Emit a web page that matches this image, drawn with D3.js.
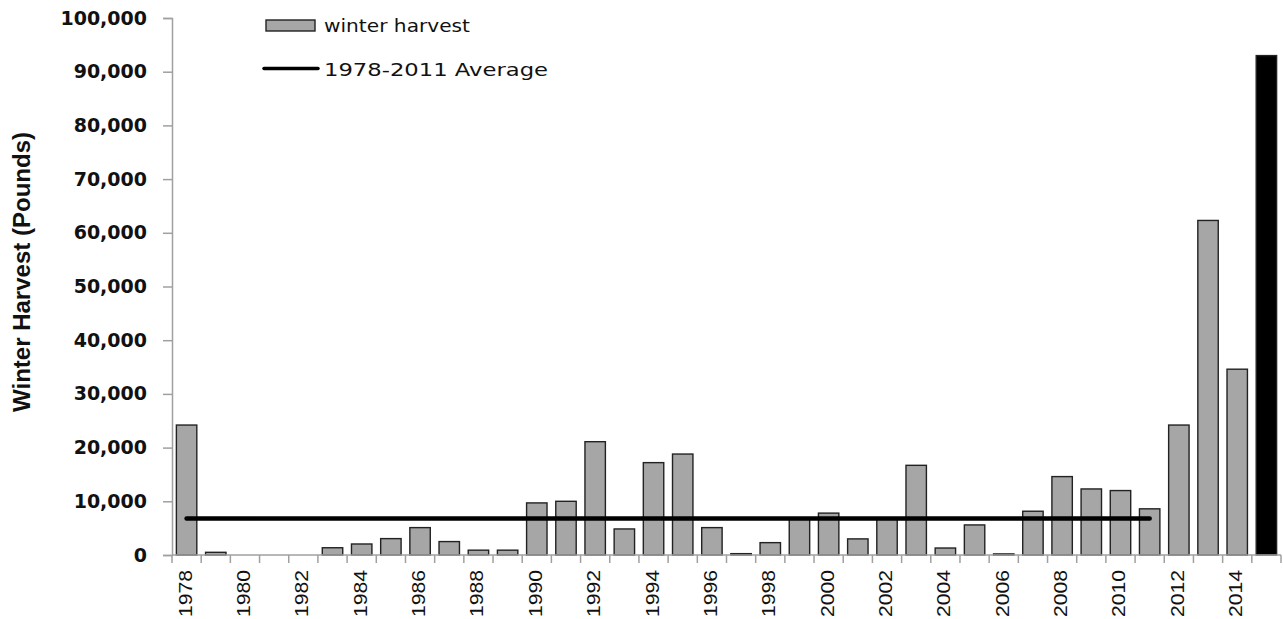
<!DOCTYPE html>
<html><head><meta charset="utf-8">
<script src="https://cdn.jsdelivr.net/npm/d3@7"></script>
<style>body{margin:0;background:#fff}svg{display:block}</style>
</head><body>
<svg id="chart" width="1283" height="619"></svg>
<script>
const years = d3.range(1978, 2016);
const harvest = [24200, 500, 0, 0, 0, 1350, 2050, 3050, 5100, 2500, 900, 900, 9700, 10000, 21100, 4850, 17200, 18800, 5100, 250, 2300, 6700, 7800, 3000, 6800, 16700, 1300, 5600, 200, 8150, 14600, 12300, 12000, 8600, 24200, 62300, 34600, 93000];
const highlightYear = 2015;
const averageValue = 6800;
const averageRange = [1978, 2011];
const yTicks = [0, 10000, 20000, 30000, 40000, 50000, 60000, 70000, 80000, 90000, 100000];
const xLabelYears = d3.range(1978, 2015, 2);
const legendLabels = ["winter harvest", "1978-2011 Average"];
const yTitle = "Winter Harvest (Pounds)";

const svg = d3.select("#chart");
const m = {left: 172, right: 2, top: 18, bottom: 64};
const W = 1283, H = 619;
const x = d3.scaleBand().domain(years).range([m.left, W - m.right]).paddingInner(0.3).paddingOuter(0.15);
const y = d3.scaleLinear().domain([0, 100000]).range([H - m.bottom, m.top]);

// bars
svg.append("g").selectAll("rect").data(years).join("rect")
  .attr("x", d => x(d))
  .attr("width", x.bandwidth())
  .attr("y", (d, i) => y(harvest[i]))
  .attr("height", (d, i) => y(0) - y(harvest[i]))
  .attr("fill", d => d === highlightYear ? "#000" : "#a6a6a6")
  .attr("stroke", "#222").attr("stroke-width", 1.4);

// average line
svg.append("line")
  .attr("x1", x(averageRange[0]) + x.bandwidth() / 2)
  .attr("x2", x(averageRange[1]) + x.bandwidth() / 2)
  .attr("y1", y(averageValue)).attr("y2", y(averageValue))
  .attr("stroke", "#000").attr("stroke-width", 4.5).attr("stroke-linecap", "round");

// y axis
const yAxis = svg.append("g").attr("transform", `translate(${m.left},0)`)
  .call(d3.axisLeft(y).tickValues(yTicks).tickSize(9).tickPadding(16).tickFormat(d3.format(",")));
yAxis.select(".domain").attr("stroke", "#a0a0a0").attr("stroke-width", 1.5);
yAxis.selectAll(".tick line").attr("stroke", "#a0a0a0").attr("stroke-width", 1.5);
yAxis.selectAll(".tick text").attr("font-family", "DejaVu Sans").attr("font-weight", "bold")
  .attr("font-size", 19).attr("fill", "#111");

// x axis: baseline with ticks at band boundaries
const step = x.step();
const bounds = years.map(d => x(d) - (step - x.bandwidth()) / 2).concat([W - m.right]);
const xg = svg.append("g");
xg.append("line").attr("x1", m.left).attr("x2", W - m.right).attr("y1", y(0)).attr("y2", y(0))
  .attr("stroke", "#a0a0a0").attr("stroke-width", 1.5);
xg.selectAll("line.t").data(bounds).join("line").attr("class", "t")
  .attr("x1", d => d).attr("x2", d => d).attr("y1", y(0)).attr("y2", y(0) + 8)
  .attr("stroke", "#a0a0a0").attr("stroke-width", 1.5);
xg.selectAll("text").data(xLabelYears).join("text")
  .attr("transform", d => `translate(${x(d) + x.bandwidth() / 2 + 5},${y(0) + 15}) rotate(-90)`)
  .attr("text-anchor", "end")
  .attr("font-family", "Liberation Sans").attr("font-size", 19).attr("fill", "#111")
  .attr("textLength", 47).attr("lengthAdjust", "spacingAndGlyphs")
  .text(d => d);

// y title
svg.append("text").attr("transform", "translate(30,272) rotate(-90)")
  .attr("text-anchor", "middle").attr("font-family", "Liberation Sans").attr("font-weight", "bold")
  .attr("font-size", 23).attr("fill", "#111")
  .attr("textLength", 280).attr("lengthAdjust", "spacingAndGlyphs").text(yTitle);

// legend
const lg = svg.append("g");
lg.append("rect").attr("x", 266).attr("y", 20).attr("width", 49).attr("height", 11)
  .attr("fill", "#a6a6a6").attr("stroke", "#222").attr("stroke-width", 1.4);
lg.append("text").attr("x", 324).attr("y", 32).attr("font-family", "DejaVu Sans").attr("font-size", 18)
  .attr("fill", "#111").attr("textLength", 146).attr("lengthAdjust", "spacingAndGlyphs").text(legendLabels[0]);
lg.append("line").attr("x1", 264).attr("x2", 318).attr("y1", 68.5).attr("y2", 68.5)
  .attr("stroke", "#000").attr("stroke-width", 3.5).attr("stroke-linecap", "round");
lg.append("text").attr("x", 324).attr("y", 76).attr("font-family", "DejaVu Sans").attr("font-size", 18)
  .attr("fill", "#111").attr("textLength", 224).attr("lengthAdjust", "spacingAndGlyphs").text(legendLabels[1]);
</script>
</body></html>
